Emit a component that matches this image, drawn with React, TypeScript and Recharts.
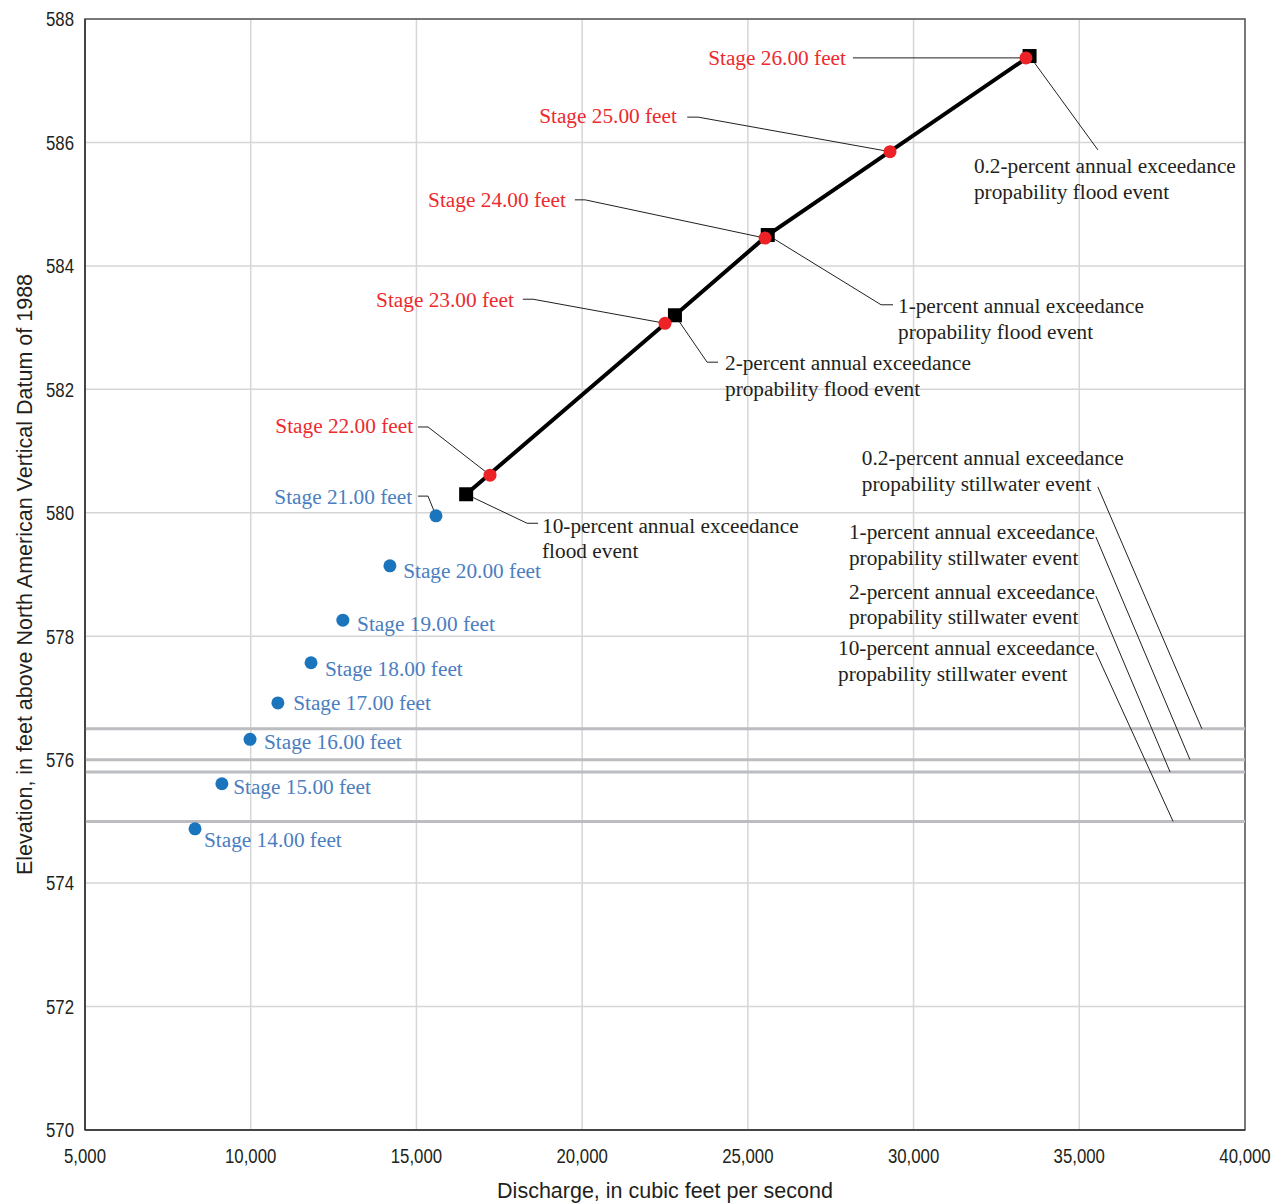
import { ScatterChart, Scatter, XAxis, YAxis, CartesianGrid, ReferenceLine, ReferenceArea, Label } from 'recharts';

const xTicks = [5000, 10000, 15000, 20000, 25000, 30000, 35000, 40000];
const yTicks = [570, 572, 574, 576, 578, 580, 582, 584, 586, 588];

// annual exceedance probability flood events (black squares joined by the line)
const floodEvents = [
  { q: 16500, elev: 580.3 },
  { q: 22800, elev: 583.2 },
  { q: 25600, elev: 584.5 },
  { q: 33500, elev: 587.4 },
];

// stages that fall on the flood line
const upperStages = [
  { q: 17220, elev: 580.61 },
  { q: 22500, elev: 583.07 },
  { q: 25520, elev: 584.45 },
  { q: 29290, elev: 585.85 },
  { q: 33390, elev: 587.37 },
];

// lower stages
const lowerStages = [
  { q: 8320, elev: 574.88 },
  { q: 9130, elev: 575.61 },
  { q: 9980, elev: 576.33 },
  { q: 10820, elev: 576.92 },
  { q: 11820, elev: 577.57 },
  { q: 12780, elev: 578.26 },
  { q: 14200, elev: 579.14 },
  { q: 15590, elev: 579.95 },
];

// stillwater elevations: 0.2, 1, 2, 10 percent
const stillwater = [576.5, 576.0, 575.8, 575.0];

type Note = {
  kind: 'red' | 'blue' | 'black';
  align: 'start' | 'end';
  lines: string[];
  q: number;
  elev: number;
  leader?: [number, number][];
};

const notes: Note[] = [
  { kind: 'red', align: 'end', lines: ['Stage 26.00 feet'], q: 27960, elev: 587.37, leader: [[28170, 587.37], [33390, 587.37]] },
  { kind: 'red', align: 'end', lines: ['Stage 25.00 feet'], q: 22860, elev: 586.43, leader: [[23170, 586.41], [23500, 586.41], [29290, 585.85]] },
  { kind: 'red', align: 'end', lines: ['Stage 24.00 feet'], q: 19510, elev: 585.07, leader: [[19780, 585.07], [20090, 585.07], [25520, 584.45]] },
  { kind: 'red', align: 'end', lines: ['Stage 23.00 feet'], q: 17940, elev: 583.46, leader: [[18210, 583.46], [18520, 583.46], [22500, 583.07]] },
  { kind: 'red', align: 'end', lines: ['Stage 22.00 feet'], q: 14900, elev: 581.41, leader: [[15050, 581.39], [15350, 581.39], [17220, 580.61]] },
  { kind: 'blue', align: 'end', lines: ['Stage 21.00 feet'], q: 14870, elev: 580.27, leader: [[15050, 580.27], [15350, 580.27], [15590, 579.95]] },
  { kind: 'blue', align: 'start', lines: ['Stage 20.00 feet'], q: 14600, elev: 579.06 },
  { kind: 'blue', align: 'start', lines: ['Stage 19.00 feet'], q: 13210, elev: 578.2 },
  { kind: 'blue', align: 'start', lines: ['Stage 18.00 feet'], q: 12240, elev: 577.48 },
  { kind: 'blue', align: 'start', lines: ['Stage 17.00 feet'], q: 11280, elev: 576.92 },
  { kind: 'blue', align: 'start', lines: ['Stage 16.00 feet'], q: 10400, elev: 576.29 },
  { kind: 'blue', align: 'start', lines: ['Stage 15.00 feet'], q: 9470, elev: 575.57 },
  { kind: 'blue', align: 'start', lines: ['Stage 14.00 feet'], q: 8590, elev: 574.7 },
  { kind: 'black', align: 'start', lines: ['10-percent annual exceedance', 'flood event'], q: 18790, elev: 579.8, leader: [[16500, 580.3], [18340, 579.83], [18670, 579.83]] },
  { kind: 'black', align: 'start', lines: ['2-percent annual exceedance', 'propability flood event'], q: 24310, elev: 582.43, leader: [[22800, 583.2], [23770, 582.44], [24100, 582.44]] },
  { kind: 'black', align: 'start', lines: ['1-percent annual exceedance', 'propability flood event'], q: 29530, elev: 583.35, leader: [[25600, 584.5], [29020, 583.37], [29380, 583.37]] },
  { kind: 'black', align: 'start', lines: ['0.2-percent annual exceedance', 'propability flood event'], q: 31820, elev: 585.62, leader: [[33500, 587.4], [35560, 585.88]] },
  { kind: 'black', align: 'start', lines: ['0.2-percent annual exceedance', 'propability stillwater event'], q: 28440, elev: 580.89, leader: [[35560, 580.42], [38700, 576.5]] },
  { kind: 'black', align: 'start', lines: ['1-percent annual exceedance', 'propability stillwater event'], q: 28050, elev: 579.69, leader: [[35500, 579.61], [38340, 576.0]] },
  { kind: 'black', align: 'start', lines: ['2-percent annual exceedance', 'propability stillwater event'], q: 28050, elev: 578.73, leader: [[35500, 578.65], [37740, 575.8]] },
  { kind: 'black', align: 'start', lines: ['10-percent annual exceedance', 'propability stillwater event'], q: 27720, elev: 577.81, leader: [[35500, 577.74], [37830, 575.0]] },
];

const noteColor = { red: '#ec2b2f', blue: '#4a7ebf', black: '#231f20' };
const serif = "'Liberation Serif', 'Times New Roman', serif";
const sans = "'Liberation Sans', Arial, sans-serif";

const NoteText = (props: any) => {
  const { cx, cy, payload } = props;
  if (cx == null || cy == null) return null;
  return (
    <text fill={noteColor[payload.kind as Note['kind']]} fontFamily={serif} fontSize={21.3} textAnchor={payload.align}>
      {payload.lines.map((l: string, i: number) => (
        <tspan key={i} x={cx} y={cy + i * 25.5} dy="0.35em">{l}</tspan>
      ))}
    </text>
  );
};

// condensed tick labels
const XTick = ({ x, y, payload }: any) => (
  <g transform={`translate(${x},${y}) scale(0.8,1)`}>
    <text textAnchor="middle" dy="0.71em" fill="#231f20" fontFamily={sans} fontSize={21}>
      {Number(payload.value).toLocaleString('en-US')}
    </text>
  </g>
);

const YTick = ({ x, y, payload }: any) => (
  <g transform={`translate(${x},${y}) scale(0.8,1)`}>
    <text textAnchor="end" dy="0.35em" fill="#231f20" fontFamily={sans} fontSize={21}>
      {payload.value}
    </text>
  </g>
);

const Square = (props: any) => {
  const { cx, cy } = props;
  if (cx == null || cy == null) return null;
  return <rect x={cx - 7} y={cy - 7} width={14} height={14} fill="#000" />;
};

const Dot = (color: string, r: number) => (props: any) => {
  const { cx, cy } = props;
  if (cx == null || cy == null) return null;
  return <circle cx={cx} cy={cy} r={r} fill={color} />;
};

const leaderSegments = notes.flatMap((n) =>
  (n.leader ?? []).slice(1).map((p, i) => [n.leader![i], p] as [[number, number], [number, number]])
);

export default function App() {
  return (
    <div>
      <style>{'body{margin:0}'}</style>
      <ScatterChart width={1273} height={1204} margin={{ top: 19, right: 28, bottom: 0, left: 0 }}>
        <CartesianGrid stroke="#d6d6d6" strokeWidth={1.5} />
        <XAxis
          type="number"
          dataKey="q"
          domain={[5000, 40000]}
          ticks={xTicks}
          allowDataOverflow
          height={74}
          tickLine={false}
          tickSize={6}
          tickMargin={12}
          axisLine={{ stroke: '#333', strokeWidth: 1.5 }}
          tick={<XTick />}
        >
          <Label
            value="Discharge, in cubic feet per second"
            position="insideBottom"
            offset={6}
            style={{ fill: '#231f20', fontSize: 21.5, fontFamily: sans }}
          />
        </XAxis>
        <YAxis
          type="number"
          dataKey="elev"
          domain={[570, 588]}
          ticks={yTicks}
          allowDataOverflow
          width={85}
          tickLine={false}
          tickSize={6}
          tickMargin={5}
          axisLine={{ stroke: '#333', strokeWidth: 1.5 }}
          tick={<YTick />}
        >
          <Label
            value="Elevation, in feet above North American Vertical Datum of 1988"
            angle={-90}
            position="center"
            dx={-18}
            style={{ fill: '#231f20', fontSize: 21.5, fontFamily: sans, textAnchor: 'middle' }}
          />
        </YAxis>
        <ReferenceArea x1={5000} x2={40000} y1={570} y2={588} fill="none" stroke="#555" strokeWidth={1.5} />
        {stillwater.map((e) => (
          <ReferenceLine key={e} y={e} stroke="#bcbdc0" strokeWidth={3} />
        ))}
        <Scatter
          data={floodEvents}
          line={{ stroke: '#000', strokeWidth: 4 }}
          lineType="joint"
          shape={Square}
          isAnimationActive={false}
        />
        <Scatter data={upperStages} shape={Dot('#ec2227', 6.5)} isAnimationActive={false} />
        <Scatter data={lowerStages} shape={Dot('#1b75bc', 6.5)} isAnimationActive={false} />
        {leaderSegments.map(([a, b], i) => (
          <ReferenceLine
            key={i}
            segment={[{ x: a[0], y: a[1] }, { x: b[0], y: b[1] }]}
            stroke="#231f20"
            strokeWidth={1}
            ifOverflow="visible"
          />
        ))}
        <Scatter data={notes} shape={NoteText} isAnimationActive={false} />
      </ScatterChart>
    </div>
  );
}
